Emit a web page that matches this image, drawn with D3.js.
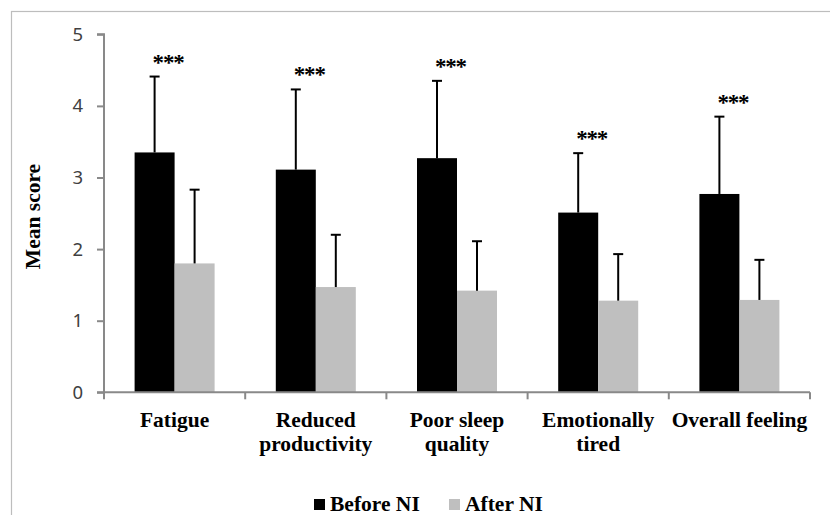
<!DOCTYPE html>
<html>
<head>
<meta charset="utf-8">
<script src="https://cdn.jsdelivr.net/npm/d3@7"></script>
<style>
  body { margin: 0; background: #fff; }
  svg { display: block; }
</style>
</head>
<body>
<div></div>
<script>
var w = 830;
var h = 515;

// data
var categories = ["Fatigue", "Reduced productivity", "Poor sleep quality", "Emotionally tired", "Overall feeling"];
var categoryLines = [["Fatigue"], ["Reduced", "productivity"], ["Poor sleep", "quality"], ["Emotionally", "tired"], ["Overall feeling"]];
var series = ["Before NI", "After NI"];
var beforeMean = [3.35, 3.11, 3.27, 2.51, 2.77];
var beforeSD = [1.06, 1.12, 1.08, 0.83, 1.08];
var afterMean = [1.80, 1.47, 1.42, 1.28, 1.29];
var afterSD = [1.03, 0.73, 0.69, 0.65, 0.56];
var significance = ["***", "***", "***", "***", "***"];
var yTicks = [0, 1, 2, 3, 4, 5];

var colors = {"Before NI": "#000000", "After NI": "#bfbfbf"};
var serif = "'Liberation Serif', 'Times New Roman', serif";

var svg = d3.select("div")
    .append("svg")
    .attr("width", w)
    .attr("height", h);

// outer frame (runs off right and bottom)
svg.append("rect")
    .attr("x", 11.5)
    .attr("y", 11.5)
    .attr("width", w)
    .attr("height", h)
    .attr("fill", "none")
    .attr("stroke", "#bdbdbd")
    .attr("stroke-width", 1.2);

var x0 = d3.scaleBand()
    .domain(categories)
    .range([104, 810])
    .padding(0);

var groupW = 80;
var x1 = d3.scaleBand()
    .domain(series)
    .range([0, groupW]);

var y = d3.scaleLinear()
    .domain([0, 5])
    .range([392.3, 34.3]);

var rows = categories.map(function (c, i) {
    return [
        {cat: c, s: "Before NI", v: beforeMean[i], e: beforeSD[i], sig: significance[i]},
        {cat: c, s: "After NI", v: afterMean[i], e: afterSD[i], sig: null}
    ];
});
var flat = [].concat.apply([], rows);

function barX(d) {
    return x0(d.cat) + (x0.bandwidth() - groupW) / 2 + x1(d.s);
}

// bars
svg.selectAll("rect.bar")
    .data(flat)
    .enter()
    .append("rect")
    .attr("class", "bar")
    .attr("x", barX)
    .attr("y", function (d) { return y(d.v); })
    .attr("width", x1.bandwidth())
    .attr("height", function (d) { return y(0) - y(d.v); })
    .attr("fill", function (d) { return colors[d.s]; });

// error bars (upper only)
var err = svg.selectAll("g.err")
    .data(flat)
    .enter()
    .append("g")
    .attr("class", "err")
    .attr("stroke", "#000")
    .attr("stroke-width", 2);
err.append("line")
    .attr("x1", function (d) { return barX(d) + x1.bandwidth() / 2; })
    .attr("x2", function (d) { return barX(d) + x1.bandwidth() / 2; })
    .attr("y1", function (d) { return y(d.v); })
    .attr("y2", function (d) { return y(d.v + d.e); });
err.append("line")
    .attr("x1", function (d) { return barX(d) + x1.bandwidth() / 2 - 5; })
    .attr("x2", function (d) { return barX(d) + x1.bandwidth() / 2 + 5; })
    .attr("y1", function (d) { return y(d.v + d.e); })
    .attr("y2", function (d) { return y(d.v + d.e); });

// significance stars
svg.selectAll("text.sig")
    .data(flat.filter(function (d) { return d.sig; }))
    .enter()
    .append("text")
    .attr("class", "sig")
    .attr("x", function (d) { return barX(d) + x1.bandwidth() / 2 - 2; })
    .attr("y", function (d) { return y(d.v + d.e) - 7; })
    .attr("font-family", serif)
    .attr("font-weight", "bold")
    .attr("font-size", 23)
    .attr("letter-spacing", -1.2)
    .text(function (d) { return d.sig; });

// y axis
var yAxis = d3.axisLeft(y)
    .tickValues(yTicks)
    .tickSize(7)
    .tickPadding(14)
    .tickFormat(d3.format("d"));
var gy = svg.append("g")
    .attr("transform", "translate(104,0)")
    .call(yAxis);
gy.select(".domain").attr("stroke", "#898989").attr("stroke-width", 2)
    .attr("d", "M-7," + y(5) + "H0V" + y(0) + "H-7");
gy.selectAll(".tick line").attr("stroke", "#898989").attr("stroke-width", 2);
gy.selectAll(".tick text")
    .attr("fill", "#404040")
    .attr("font-family", "'Noto Sans', sans-serif")
    .attr("font-size", 18.5);

// x axis line + boundary ticks
var bounds = categories.map(function (c) { return x0(c); }).concat([x0.range()[1]]);
svg.append("line")
    .attr("x1", 104).attr("x2", 810)
    .attr("y1", y(0)).attr("y2", y(0))
    .attr("stroke", "#898989").attr("stroke-width", 2);
svg.selectAll("line.xtick")
    .data(bounds)
    .enter()
    .append("line")
    .attr("class", "xtick")
    .attr("x1", function (d) { return d; })
    .attr("x2", function (d) { return d; })
    .attr("y1", y(0))
    .attr("y2", y(0) + 7)
    .attr("stroke", "#898989").attr("stroke-width", 2);

// category labels
var cl = svg.selectAll("text.cat")
    .data(categories)
    .enter()
    .append("text")
    .attr("class", "cat")
    .attr("text-anchor", "middle")
    .attr("font-family", serif)
    .attr("font-weight", "bold")
    .attr("font-size", 21.5)
    .attr("fill", "#000");
cl.selectAll("tspan")
    .data(function (d, i) {
        return categoryLines[i].map(function (t) { return {t: t, c: d}; });
    })
    .enter()
    .append("tspan")
    .attr("x", function (d) { return x0(d.c) + x0.bandwidth() / 2; })
    .attr("y", function (d, j) { return 426.5 + j * 24; })
    .text(function (d) { return d.t; });

// y title
svg.append("text")
    .attr("transform", "translate(40,216.5) rotate(-90)")
    .attr("text-anchor", "middle")
    .attr("font-family", serif)
    .attr("font-weight", "bold")
    .attr("font-size", 21.5)
    .text("Mean score");

// legend
var legendX = [314, 449];
var lg = svg.selectAll("g.legend")
    .data(series)
    .enter()
    .append("g")
    .attr("class", "legend")
    .attr("transform", function (d, i) { return "translate(" + legendX[i] + ",0)"; });
lg.append("rect")
    .attr("x", 0)
    .attr("y", 499)
    .attr("width", 11)
    .attr("height", 11)
    .attr("fill", function (d) { return colors[d]; });
lg.append("text")
    .attr("x", 16)
    .attr("y", 511)
    .attr("font-family", serif)
    .attr("font-weight", "bold")
    .attr("font-size", 21.5)
    .text(function (d) { return d; });
</script>
</body>
</html>
